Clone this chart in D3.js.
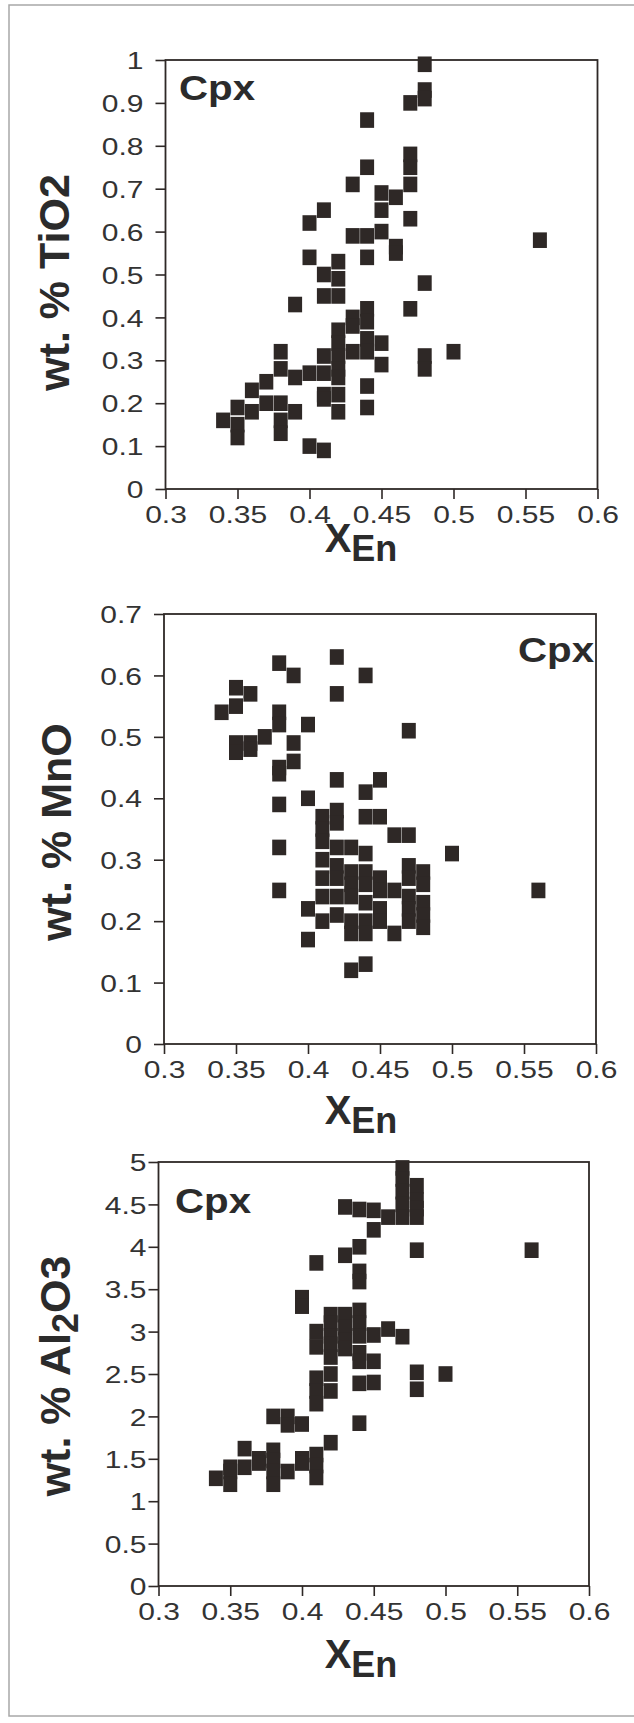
<!DOCTYPE html>
<html>
<head>
<meta charset="utf-8">
<script src="https://cdn.jsdelivr.net/npm/d3@7"></script>
<style>
  body { margin: 0; background: #fff; }
  svg { display: block; }
</style>
</head>
<body>
<div id="chart"></div>
<script>
// ---- tick values (same X_En axis on every plot)
var xTicks = [0.3, 0.35, 0.4, 0.45, 0.5, 0.55, 0.6];
var tiTicks = [0, 0.1, 0.2, 0.3, 0.4, 0.5, 0.6, 0.7, 0.8, 0.9, 1];
var mnTicks = [0, 0.1, 0.2, 0.3, 0.4, 0.5, 0.6, 0.7];
var alTicks = [0, 0.5, 1, 1.5, 2, 2.5, 3, 3.5, 4, 4.5, 5];

// ---- TiO2 vs X_En
var tiX = [0.34,
  0.35, 0.35, 0.35,
  0.36, 0.36,
  0.37, 0.37,
  0.38, 0.38, 0.38, 0.38, 0.38,
  0.39, 0.39, 0.39,
  0.40, 0.40, 0.40, 0.40,
  0.41, 0.41, 0.41, 0.41, 0.41, 0.41, 0.41, 0.41,
  0.42, 0.42, 0.42, 0.42, 0.42, 0.42, 0.42, 0.42, 0.42, 0.42,
  0.43, 0.43, 0.43, 0.43, 0.43,
  0.44, 0.44, 0.44, 0.44, 0.44, 0.44, 0.44, 0.44, 0.44, 0.44,
  0.45, 0.45, 0.45, 0.45, 0.45,
  0.46, 0.46, 0.46,
  0.47, 0.47, 0.47, 0.47, 0.47, 0.47,
  0.48, 0.48, 0.48, 0.48, 0.48, 0.48,
  0.50, 0.56];
var tiO2 = [0.16,
  0.19, 0.15, 0.12,
  0.23, 0.18,
  0.25, 0.20,
  0.32, 0.28, 0.20, 0.16, 0.13,
  0.43, 0.26, 0.18,
  0.62, 0.54, 0.27, 0.10,
  0.65, 0.50, 0.45, 0.31, 0.27, 0.22, 0.21, 0.09,
  0.53, 0.49, 0.45, 0.37, 0.34, 0.31, 0.28, 0.26, 0.22, 0.18,
  0.71, 0.59, 0.40, 0.38, 0.32,
  0.86, 0.75, 0.59, 0.54, 0.42, 0.39, 0.35, 0.32, 0.24, 0.19,
  0.69, 0.65, 0.60, 0.34, 0.29,
  0.68, 0.565, 0.55,
  0.90, 0.78, 0.75, 0.71, 0.63, 0.42,
  0.99, 0.93, 0.91, 0.48, 0.31, 0.28,
  0.32, 0.58];

// ---- MnO vs X_En
var mnX = [0.34,
  0.35, 0.35, 0.35, 0.35,
  0.36, 0.36, 0.36,
  0.37,
  0.38, 0.38, 0.38, 0.38, 0.38, 0.38, 0.38, 0.38,
  0.39, 0.39, 0.39,
  0.40, 0.40, 0.40, 0.40,
  0.41, 0.41, 0.41, 0.41, 0.41, 0.41, 0.41,
  0.42, 0.42, 0.42, 0.42, 0.42, 0.42, 0.42, 0.42, 0.42, 0.42,
  0.43, 0.43, 0.43, 0.43, 0.43, 0.43, 0.43,
  0.44, 0.44, 0.44, 0.44, 0.44, 0.44, 0.44, 0.44, 0.44, 0.44,
  0.45, 0.45, 0.45, 0.45, 0.45, 0.45,
  0.46, 0.46, 0.46,
  0.47, 0.47, 0.47, 0.47, 0.47, 0.47, 0.47,
  0.48, 0.48, 0.48, 0.48, 0.48,
  0.50, 0.56];
var mnO = [0.54,
  0.58, 0.55, 0.49, 0.475,
  0.57, 0.49, 0.48,
  0.50,
  0.62, 0.54, 0.52, 0.45, 0.44, 0.39, 0.32, 0.25,
  0.60, 0.49, 0.46,
  0.52, 0.40, 0.22, 0.17,
  0.37, 0.35, 0.33, 0.30, 0.27, 0.24, 0.20,
  0.63, 0.57, 0.43, 0.38, 0.36, 0.32, 0.29, 0.27, 0.24, 0.21,
  0.32, 0.28, 0.26, 0.24, 0.20, 0.18, 0.12,
  0.60, 0.41, 0.37, 0.31, 0.28, 0.26, 0.23, 0.20, 0.18, 0.13,
  0.43, 0.37, 0.27, 0.25, 0.22, 0.20,
  0.34, 0.25, 0.18,
  0.51, 0.34, 0.29, 0.27, 0.24, 0.22, 0.20,
  0.28, 0.26, 0.23, 0.21, 0.19,
  0.31, 0.25];

// ---- Al2O3 vs X_En
var alX = [0.34,
  0.35, 0.35, 0.35,
  0.36, 0.36,
  0.37, 0.37,
  0.38, 0.38, 0.38, 0.38, 0.38,
  0.39, 0.39, 0.39,
  0.40, 0.40, 0.40, 0.40, 0.40,
  0.41, 0.41, 0.41, 0.41, 0.41, 0.41, 0.41, 0.41, 0.41,
  0.42, 0.42, 0.42, 0.42, 0.42, 0.42, 0.42, 0.42,
  0.43, 0.43, 0.43, 0.43, 0.43, 0.43,
  0.44, 0.44, 0.44, 0.44, 0.44, 0.44, 0.44, 0.44, 0.44, 0.44, 0.44,
  0.45, 0.45, 0.45, 0.45, 0.45,
  0.46, 0.46,
  0.47, 0.47, 0.47, 0.47, 0.47, 0.47,
  0.48, 0.48, 0.48, 0.48, 0.48, 0.48, 0.48,
  0.50, 0.56];
var al2O3 = [1.27,
  1.40, 1.35, 1.20,
  1.62, 1.40,
  1.50, 1.45,
  2.00, 1.60, 1.48, 1.35, 1.20,
  2.00, 1.90, 1.35,
  3.40, 3.30, 1.91, 1.50, 1.45,
  3.81, 3.00, 2.82, 2.45, 2.30, 2.15, 1.55, 1.42, 1.28,
  3.20, 3.10, 2.95, 2.85, 2.70, 2.50, 2.30, 1.69,
  4.47, 3.90, 3.20, 3.05, 2.90, 2.80,
  4.44, 4.00, 3.71, 3.59, 3.25, 3.10, 2.95, 2.75, 2.65, 2.39, 1.92,
  4.43, 4.20, 2.96, 2.65, 2.40,
  4.35, 3.03,
  4.93, 4.80, 4.65, 4.50, 4.35, 2.94,
  4.72, 4.55, 4.45, 4.35, 3.96, 2.52, 2.32,
  2.50, 3.96];

var W = 634, H = 1723;
var ink = "#2e2826";
var font = "'Liberation Sans', Arial, Helvetica, sans-serif";

var svg = d3.select("#chart").append("svg")
  .attr("width", W).attr("height", H);

svg.append("rect").attr("width", W).attr("height", H).attr("fill", "#fff");
// thin frame of the scanned page
svg.append("rect")
  .attr("x", 9).attr("y", 5).attr("width", 640).attr("height", 1711)
  .attr("fill", "none").attr("stroke", "#a8a8a8").attr("stroke-width", 1.5);

var panels = [
  { xs: tiX, ys: tiO2, yTicks: tiTicks, yMax: 1, left: 165.5, right: 597.5, top: 60, bottom: 489,
    labelGap: 12, cpx: [179, 100], title: [{ t: "wt. % TiO2" }], titleX: 69, titleDy: 8, xTitleDy: 63 },
  { xs: mnX, ys: mnO, yTicks: mnTicks, yMax: 0.7, left: 164, right: 596, top: 614, bottom: 1044,
    labelGap: 12, cpx: [518, 662], title: [{ t: "wt. % MnO" }], titleX: 71, titleDy: 3, xTitleDy: 80 },
  { xs: alX, ys: al2O3, yTicks: alTicks, yMax: 5, left: 158.5, right: 589, top: 1162, bottom: 1586,
    labelGap: 2, cpx: [175, 1213], title: [{ t: "wt. % Al" }, { t: "2", sub: true }, { t: "O3" }], titleX: 70,
    titleDy: 2, xTitleDy: 82 }
];

var stretch = 1.25; // tick labels in the scan are set wide

panels.forEach(function (p) {
  var x = d3.scaleLinear().domain([0.3, 0.6]).range([p.left, p.right]);
  var y = d3.scaleLinear().domain([0, p.yMax]).range([p.bottom, p.top]);
  var g = svg.append("g");

  // plot box
  g.append("rect")
    .attr("x", p.left).attr("y", p.top)
    .attr("width", p.right - p.left).attr("height", p.bottom - p.top)
    .attr("fill", "none").attr("stroke", ink).attr("stroke-width", 1.8);

  // y axis
  var ya = g.append("g").attr("transform", "translate(" + p.left + ",0)")
    .call(d3.axisLeft(y).tickValues(p.yTicks).tickSize(10).tickSizeOuter(0)
      .tickFormat(function (d) { return String(+d.toFixed(2)); }));
  ya.select(".domain").remove();
  ya.selectAll("line").attr("stroke", ink).attr("stroke-width", 1.6);
  ya.selectAll("text")
    .attr("x", -(10 + p.labelGap) / stretch).attr("dy", "0.36em")
    .attr("transform", "scale(" + stretch + ",1)")
    .attr("fill", "#333").style("font", "24px " + font);

  // x axis
  var xa = g.append("g").attr("transform", "translate(0," + p.bottom + ")")
    .call(d3.axisBottom(x).tickValues(xTicks).tickSize(10).tickSizeOuter(0)
      .tickFormat(function (d) { return String(+d.toFixed(2)); }));
  xa.select(".domain").remove();
  xa.selectAll("line").attr("stroke", ink).attr("stroke-width", 1.6);
  xa.selectAll("text")
    .attr("y", 34).attr("dy", 0)
    .attr("transform", "scale(" + stretch + ",1)")
    .attr("fill", "#333").style("font", "24px " + font);

  // points: filled squares
  g.selectAll("rect.pt").data(p.xs).enter().append("rect")
    .attr("class", "pt")
    .attr("x", function (d) { return x(d) - 7; })
    .attr("y", function (d, i) { return y(p.ys[i]) - 7.8; })
    .attr("width", 14).attr("height", 15.6)
    .attr("fill", ink);

  // "Cpx" label
  g.append("text")
    .attr("transform", "translate(" + p.cpx[0] + "," + p.cpx[1] + ") scale(1.12,1)")
    .attr("fill", "#2b2b2b").style("font", "bold 36px " + font)
    .text("Cpx");

  // y title
  var cy = (p.top + p.bottom) / 2 + p.titleDy;
  var yt = g.append("text")
    .attr("transform", "translate(" + p.titleX + "," + cy + ") rotate(-90)")
    .attr("text-anchor", "middle")
    .attr("fill", "#2b2b2b").style("font", "bold 43px " + font);
  p.title.forEach(function (part, i) {
    var s = yt.append("tspan").text(part.t);
    if (part.sub) s.attr("dy", 8).style("font-size", "36px");
    else if (i > 0) s.attr("dy", -8);
  });

  // x title X_En
  var xt = g.append("text")
    .attr("x", 361).attr("y", p.bottom + p.xTitleDy)
    .attr("text-anchor", "middle")
    .attr("fill", "#2b2b2b").style("font", "bold 40px " + font);
  xt.append("tspan").text("X");
  xt.append("tspan").attr("dy", 9).style("font-size", "36px").text("En");
});
</script>
</body>
</html>
